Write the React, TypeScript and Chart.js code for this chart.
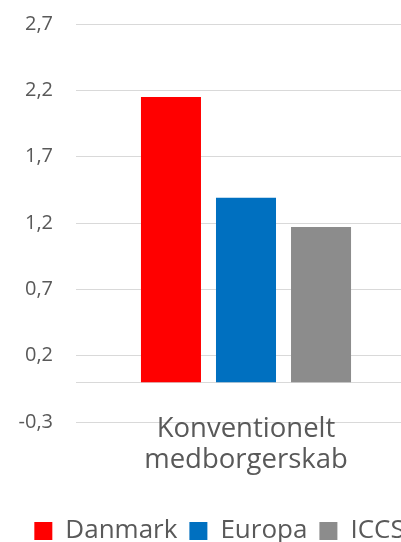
import React, { useEffect, useRef } from 'react';
import { Chart, registerables } from 'chart.js';

Chart.register(...registerables);

const categories: string[][] = [['Konventionelt', 'medborgerskab']];
const seriesNames = ['Danmark', 'Europa', 'ICCS'];
const danmark = [2.15];
const europa = [1.39];
const iccs = [1.17];
const yTicks = [-0.3, 0.2, 0.7, 1.2, 1.7, 2.2, 2.7];
const colors = ['#FF0000', '#0070C0', '#8C8C8C'];

const FONT = "'Open Sans', sans-serif";
const TEXT = '#595959';
const GRID = '#D9D9D9';
const PAD_LEFT = 3;
const SPACER_RIGHT = 20;

export default function App() {
  const ref = useRef<HTMLCanvasElement | null>(null);

  useEffect(() => {
    if (!ref.current) return;
    const series = [danmark, europa, iccs];
    const chart = new Chart(ref.current, {
      type: 'bar',
      data: {
        labels: categories,
        datasets: seriesNames.map((name, i) => ({
          label: name,
          data: series[i],
          backgroundColor: colors[i],
          borderWidth: 0,
          categoryPercentage: 0.662,
          barPercentage: 0.8,
        })),
      },
      options: {
        responsive: false,
        animation: false,
        devicePixelRatio: 1,
        layout: { padding: { top: 24, left: PAD_LEFT, right: 0, bottom: 0 } },
        scales: {
          x: {
            position: { y: 0 } as any,
            grid: { display: false, drawTicks: false },
            border: { display: true, color: GRID, width: 1 },
            ticks: {
              padding: 31,
              color: TEXT,
              font: { family: FONT, size: 27.5, lineHeight: 1.145 },
              maxRotation: 0,
              autoSkip: false,
            },
          },
          y: {
            min: -0.3,
            max: 2.7,
            afterBuildTicks: (s: any) => {
              s.ticks = yTicks.map((v) => ({ value: v }));
            },
            afterFit: (s: any) => {
              s.width = 76 - PAD_LEFT;
            },
            grid: {
              color: GRID,
              lineWidth: 1,
              drawTicks: true,
              tickLength: 23,
              tickColor: 'rgba(0,0,0,0)',
            },
            border: { display: false },
            ticks: {
              padding: 0,
              color: TEXT,
              font: { family: FONT, size: 20 },
              callback: (v: any) => Number(v).toFixed(1).replace('.', ','),
            },
          },
          ySpacer: {
            type: 'linear',
            position: 'right',
            display: true,
            grid: { display: false, drawTicks: false },
            border: { display: false },
            ticks: { display: false },
            afterFit: (s: any) => {
              s.width = SPACER_RIGHT;
            },
          },
        },
        plugins: {
          tooltip: { enabled: false },
          legend: {
            position: 'bottom',
            title: {
              display: true,
              text: ' ',
              padding: { top: 72, bottom: 0 },
              font: { size: 10, lineHeight: 1.2 },
            },
            labels: {
              boxWidth: 18,
              boxHeight: 18,
              padding: 12,
              color: TEXT,
              font: { family: FONT, size: 26 },
            },
          },
        },
      },
    });
    return () => chart.destroy();
  }, []);

  return (
    <div
      style={{
        position: 'fixed',
        left: 0,
        top: 0,
        width: 401,
        height: 542,
        overflow: 'hidden',
        background: '#fff',
      }}
    >
      <canvas ref={ref} width={416 + SPACER_RIGHT} height={554} style={{ display: 'block' }} />
    </div>
  );
}
